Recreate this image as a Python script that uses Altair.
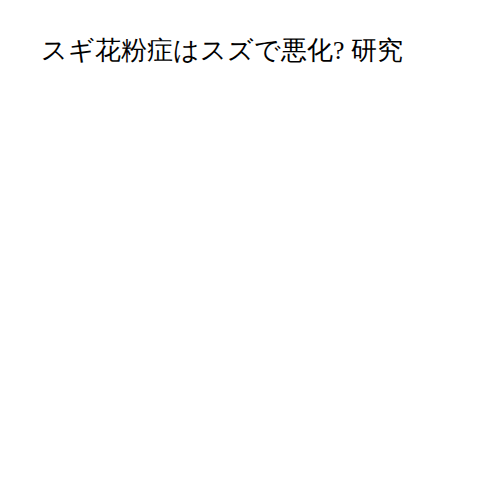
import altair as alt
import pandas as pd

title_text = "スギ花粉症はスズで悪化? 研究"
categories = []
values = []

df = pd.DataFrame({"category": categories, "value": values})

chart = alt.Chart(df).mark_bar().encode(
    x=alt.X("category:N", axis=None),
    y=alt.Y("value:Q", axis=None),
).properties(
    width=420,
    height=380,
    padding={"left": 33, "top": 30, "right": 5, "bottom": 5},
    title=alt.TitleParams(
        text=title_text,
        font="Liberation Serif",
        fontSize=25.7,
        fontWeight="normal",
        anchor="start",
        color="#000000",
        offset=10,
    ),
).configure(background="white").configure_view(strokeWidth=0, stroke="transparent")

chart.save("out.html", embed_options={"renderer": "svg", "actions": False})
